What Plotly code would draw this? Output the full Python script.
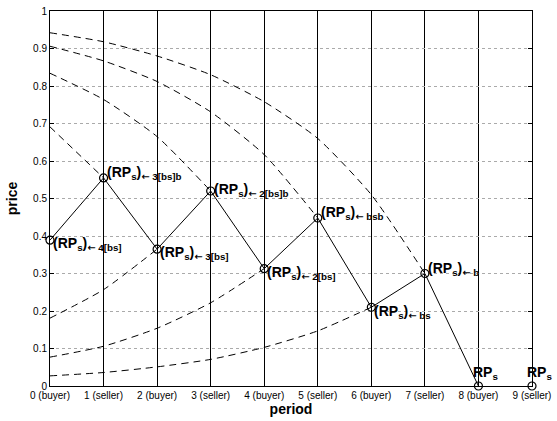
import plotly.graph_objects as go

periods = list(range(10))
tick_labels = ["0 (buyer)", "1 (seller)", "2 (buyer)", "3 (seller)", "4 (buyer)",
               "5 (seller)", "6 (buyer)", "7 (seller)", "8 (buyer)", "9 (seller)"]
price_ticks = [0, 0.1, 0.2, 0.3, 0.4, 0.5, 0.6, 0.7, 0.8, 0.9, 1.0]
price_tick_labels = ["0", "0.1", "0.2", "0.3", "0.4", "0.5", "0.6", "0.7", "0.8", "0.9", "1"]

# reservation price path (solid zigzag)
rp_x = [0, 1, 2, 3, 4, 5, 6, 7, 8]
rp_y = [0.389, 0.555, 0.365, 0.52, 0.313, 0.448, 0.21, 0.30, 0.0]
marker_x = [0, 1, 2, 3, 4, 5, 6, 7, 8, 9]
marker_y = [0.389, 0.555, 0.365, 0.52, 0.313, 0.448, 0.21, 0.30, 0.0, 0.0]

# dashed curves (read at integer periods)
curve_a_x = [0, 1, 2, 3, 4, 5, 6, 7]
curve_a_y = [0.942, 0.918, 0.88, 0.83, 0.758, 0.66, 0.51, 0.30]
curve_b_x = [0, 1, 2, 3, 4, 5]
curve_b_y = [0.906, 0.867, 0.812, 0.731, 0.617, 0.448]
curve_c_x = [0, 1, 2, 3]
curve_c_y = [0.834, 0.764, 0.665, 0.52]
curve_d_x = [0, 1]
curve_d_y = [0.691, 0.555]
curve_e_x = [0, 1, 2]
curve_e_y = [0.181, 0.257, 0.365]
curve_f_x = [0, 1, 2, 3, 4]
curve_f_y = [0.077, 0.106, 0.154, 0.222, 0.313]
curve_g_x = [0, 1, 2, 3, 4, 5, 6]
curve_g_y = [0.027, 0.036, 0.051, 0.071, 0.103, 0.147, 0.21]

ARROW = '<span style="font-family:DejaVu Sans">←</span>'
label_subs = ["4[bs]", "3[bs]b", "3[bs]", "2[bs]b", "2[bs]", "bsb", "bs", "b", None, None]
label_yshift = [-4, 5, -4, 1, -4, 5, -5, 5, 13, 13]
label_xshift = [2, 2, 2, 2, 2, 2, 2, 2, -6, -6]

fig = go.Figure()

for cx, cy in [(curve_a_x, curve_a_y), (curve_b_x, curve_b_y), (curve_c_x, curve_c_y),
               (curve_d_x, curve_d_y), (curve_e_x, curve_e_y), (curve_f_x, curve_f_y),
               (curve_g_x, curve_g_y)]:
    fig.add_trace(go.Scatter(x=cx, y=cy, mode="lines",
                             line=dict(color="black", width=1, dash="7px,5px", shape="spline", smoothing=0.6),
                             hoverinfo="skip", showlegend=False))

fig.add_trace(go.Scatter(x=rp_x, y=rp_y, mode="lines", line=dict(color="black", width=1),
                         showlegend=False, cliponaxis=False))
fig.add_trace(go.Scatter(x=marker_x, y=marker_y, mode="markers",
                         marker=dict(symbol="circle-open", size=8, color="black", line=dict(width=1.2)),
                         showlegend=False, cliponaxis=False))

for i, (px, py) in enumerate(zip(marker_x, marker_y)):
    sub = label_subs[i]
    if sub is None:
        text = "<b>RP<sub>s</sub></b>"
    else:
        text = "<b>(RP<sub>s</sub>)<sub>" + ARROW + " " + sub + "</sub></b>"
    fig.add_annotation(x=px, y=py, text=text, showarrow=False,
                       xanchor="left", yanchor="middle", xshift=label_xshift[i], yshift=label_yshift[i],
                       borderpad=0,
                       font=dict(family="Liberation Sans, Arial", size=14, color="black"))

fig.update_layout(
    width=557, height=421,
    margin=dict(l=50, r=25, t=5, b=35),
    plot_bgcolor="white", paper_bgcolor="white",
    font=dict(family="Liberation Sans, Arial", size=10, color="black"),
    xaxis=dict(range=[0, 9], tickmode="array", tickvals=periods, ticktext=tick_labels,
               showgrid=True, gridcolor="black", gridwidth=1, ticklabeloverflow="allow",
               showline=True, linecolor="black", linewidth=1, mirror="ticks",
               ticks="inside", ticklen=4, tickcolor="black", zeroline=False,
               title=dict(text="<b>period</b>", font=dict(size=14), standoff=2)),
    yaxis=dict(range=[0, 1.00001], tickmode="array", tickvals=price_ticks, ticktext=price_tick_labels,
               showgrid=True, gridcolor="#aaaaaa", gridwidth=1, griddash="dot", ticklabeloverflow="allow",
               showline=True, linecolor="black", linewidth=1, mirror="ticks",
               ticks="inside", ticklen=4, tickcolor="black", zeroline=False,
               title=dict(text="<b>price</b>", font=dict(size=14), standoff=12)),
)

fig.write_html("out.html")
